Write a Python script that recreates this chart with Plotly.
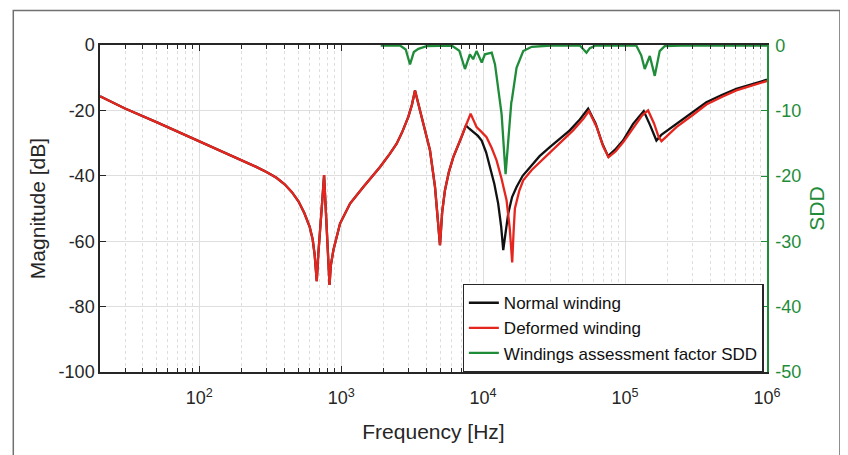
import plotly.graph_objects as go

# ---------------- data ----------------
normal_freq = [20, 30, 50, 100, 165, 200, 250, 300, 350, 400, 450, 500, 550, 600, 630,
               650, 673, 690, 710, 735, 758, 775, 792, 812, 828, 845, 882, 982, 1155, 1432,
               1879, 2200, 2460, 2700, 2972, 3150, 3313, 3690, 4224, 4582, 4750, 4968, 5150,
               5386, 5743, 6166, 7000, 7570, 8000, 8513, 9200, 9770, 10500, 11170, 12000,
               12770, 13400, 13860, 14300, 15030, 16000, 17200, 19000, 21350, 25000, 29500,
               35000, 40800, 48000, 54950, 62000, 69000, 75900, 85000, 96800, 113900, 125000,
               135400, 150000, 166300, 180000, 230000, 300000, 374000, 480000, 608000, 800000,
               1000000]
normal_mag = [-15.7, -19.4, -23.6, -29.4, -33.7, -35.3, -37.2, -38.9, -40.6, -42.6, -45.0,
              -47.8, -51.4, -55.6, -59.5, -64.0, -72.2, -64.0, -57.6, -48.0, -39.8, -48.0,
              -57.6, -66.5, -73.4, -67.5, -62.7, -54.6, -48.5, -43.4, -37.3, -33.3, -30.2,
              -26.5, -22.0, -18.3, -13.9, -22.0, -32.2, -43.4, -50.5, -61.2, -51.0, -44.4,
              -38.8, -34.3, -28.5, -24.6, -25.6, -26.6, -27.8, -29.2, -32.8, -37.3, -42.5,
              -48.5, -55.5, -62.7, -58.0, -51.5, -46.5, -43.4, -40.0, -37.3, -34.0, -31.2,
              -28.6, -26.1, -22.8, -19.5, -24.0, -30.0, -34.0, -32.0, -29.2, -24.1, -22.0,
              -20.2, -24.5, -29.2, -27.5, -24.1, -20.6, -17.5, -15.3, -13.4, -11.9, -10.6]

deformed_freq = [20, 30, 50, 100, 165, 200, 250, 300, 350, 400, 450, 500, 550, 600, 630,
                 650, 673, 690, 710, 735, 758, 775, 792, 812, 828, 845, 882, 982, 1155, 1432,
                 1879, 2200, 2460, 2700, 2972, 3150, 3313, 3690, 4224, 4582, 4750, 4968, 5150,
                 5386, 5743, 6166, 7200, 8166, 8600, 8990, 9700, 10570, 11500, 12440, 13500,
                 14630, 15400, 16030, 16400, 16750, 18000, 19170, 22000, 25120, 32900, 43050,
                 51000, 55600, 63000, 70000, 76500, 86000, 97500, 115000, 132000, 145300,
                 160000, 172000, 180500, 192000, 230000, 300000, 374000, 480000, 608000,
                 800000, 1000000]
deformed_mag = [-15.7, -19.4, -23.6, -29.4, -33.7, -35.3, -37.2, -38.9, -40.6, -42.6, -45.0,
                -47.8, -51.4, -55.6, -59.5, -64.0, -72.2, -64.0, -57.6, -48.0, -39.8, -48.0,
                -57.6, -66.5, -73.4, -67.5, -62.7, -54.6, -48.5, -43.4, -37.3, -33.3, -30.2,
                -26.5, -22.0, -18.3, -13.9, -22.0, -32.2, -43.4, -50.5, -61.2, -51.0, -44.4,
                -38.8, -34.3, -27.0, -21.0, -23.2, -25.1, -26.5, -28.2, -31.5, -35.3, -41.0,
                -47.5, -56.0, -66.5, -57.0, -50.0, -44.5, -41.4, -38.2, -35.8, -31.2, -26.1,
                -22.5, -20.2, -25.0, -31.0, -34.3, -32.5, -29.6, -25.0, -21.5, -20.0,
                -24.0, -28.0, -29.4, -28.3, -25.1, -21.4, -18.2, -15.9, -13.9, -12.3, -11.0]

sdd_freq = [1900, 2600, 2850, 3055, 3250, 3500, 4000, 6000, 6800, 7450, 8070, 8510, 8990,
            9780, 10300, 11500, 12130, 12770, 12910, 13500, 14400, 15330, 15800, 15950,
            17200, 19170, 22000, 30000, 48000, 51000, 53500, 56500, 62000, 120000, 130000,
            137600, 149400, 161900, 175400, 190000, 250000, 1000000]
sdd_val = [0, 0, -0.6, -2.9, -1.0, -0.5, -0.1, 0, -0.8, -3.6, -1.35, -2.1, -0.85,
           -2.6, -1.35, -1.1, -2.9, -6.4, -6.9, -10.5, -19.7, -11.5, -8.7, -8.3,
           -3.4, -0.85, -0.2, 0, 0, -0.6, -1.1, -0.4, 0, 0, -1.5,
           -3.6, -1.6, -4.65, -0.85, -0.1, 0, 0]

x_tick_vals = [1e2, 1e3, 1e4, 1e5, 1e6]
x_tick_text = ["10<sup>2</sup>", "10<sup>3</sup>", "10<sup>4</sup>", "10<sup>5</sup>", "10<sup>6</sup>"]
x_minor_vals = [m * 10 ** e for e in range(1, 6) for m in range(2, 10) if m * 10 ** e >= 20]
y_tick_vals = [0, -20, -40, -60, -80, -100]
y_tick_text = ["0", "-20", "-40", "-60", "-80", "-100"]
y2_tick_vals = [0, -10, -20, -30, -40, -50]
y2_tick_text = ["0", "-10", "-20", "-30", "-40", "-50"]

# ---------------- styling ----------------
FONT = "Liberation Sans, Arial, sans-serif"
BLACK = "#111111"
RED = "#e5261f"
GREEN = "#1f8c3a"
AXIS = "#262626"
GRID = "#dedede"

fig = go.Figure()
fig.add_trace(go.Scatter(x=normal_freq, y=normal_mag, mode="lines", name="Normal winding",
                         line=dict(color=BLACK, width=2.3)))
fig.add_trace(go.Scatter(x=deformed_freq, y=deformed_mag, mode="lines", name="Deformed winding",
                         line=dict(color=RED, width=2.3)))
fig.add_trace(go.Scatter(x=sdd_freq, y=sdd_val, mode="lines", name="Windings assessment factor SDD",
                         line=dict(color=GREEN, width=2.3), yaxis="y2"))

# the page body has an 8 px margin, so the figure is sized to fit the 848x455 window
fig.update_layout(
    width=840, height=447,
    margin=dict(l=92, r=81, t=37, b=83, autoexpand=False),
    paper_bgcolor="white", plot_bgcolor="white",
    font=dict(family=FONT, size=18, color=AXIS),
    showlegend=True,
    legend=dict(x=0.995, y=0.0, xanchor="right", yanchor="bottom",
                bgcolor="white", bordercolor=AXIS, borderwidth=1.2,
                font=dict(family=FONT, size=17, color=BLACK),
                itemwidth=30, tracegroupgap=0),
    xaxis=dict(type="log", range=[1.30103, 6], automargin=False,
               tickmode="array", tickvals=x_tick_vals, ticktext=x_tick_text,
               ticks="inside", ticklen=6, tickcolor=AXIS, ticklabelstandoff=9,
               showline=True, linecolor=AXIS, linewidth=1.5, mirror="ticks",
               showgrid=True, gridcolor=GRID, gridwidth=1,
               minor=dict(tickmode="array", tickvals=x_minor_vals, ticks="inside", ticklen=4,
                          tickcolor=AXIS, showgrid=True, gridcolor=GRID, griddash="dot", gridwidth=1),
               tickfont=dict(family=FONT, size=18, color=AXIS),
               title=dict(text="Frequency [Hz]", font=dict(family=FONT, size=21, color=AXIS), standoff=17),
               zeroline=False),
    yaxis=dict(range=[-100, 0], automargin=False, tickmode="array", tickvals=y_tick_vals,
               ticktext=y_tick_text,
               ticks="inside", ticklen=6, tickcolor=AXIS,
               showline=True, linecolor=AXIS, linewidth=1.5, mirror=False,
               showgrid=True, gridcolor=GRID, gridwidth=1, zeroline=False,
               tickfont=dict(family=FONT, size=18, color=AXIS),
               title=dict(text="Magnitude [dB]", font=dict(family=FONT, size=21, color=AXIS), standoff=7)),
    yaxis2=dict(range=[-50, 0.08], overlaying="y", side="right", anchor="x", automargin=False,
                tickmode="array", tickvals=y2_tick_vals, ticktext=y2_tick_text,
                ticks="inside", ticklen=6, tickcolor=GREEN, ticklabelstandoff=3,
                showline=True, linecolor=GREEN, linewidth=1.5,
                showgrid=False, zeroline=False,
                tickfont=dict(family=FONT, size=18, color=GREEN),
                title=dict(text="SDD", font=dict(family=FONT, size=21, color=GREEN), standoff=9)),
    shapes=[dict(type="rect", xref="paper", yref="paper",
                 x0=-0.130, x1=1.1094, y0=-0.26, y1=1.1053,
                 line=dict(color="#707070", width=1.5), fillcolor="rgba(0,0,0,0)", layer="below")],
)

fig.write_html("out.html")
